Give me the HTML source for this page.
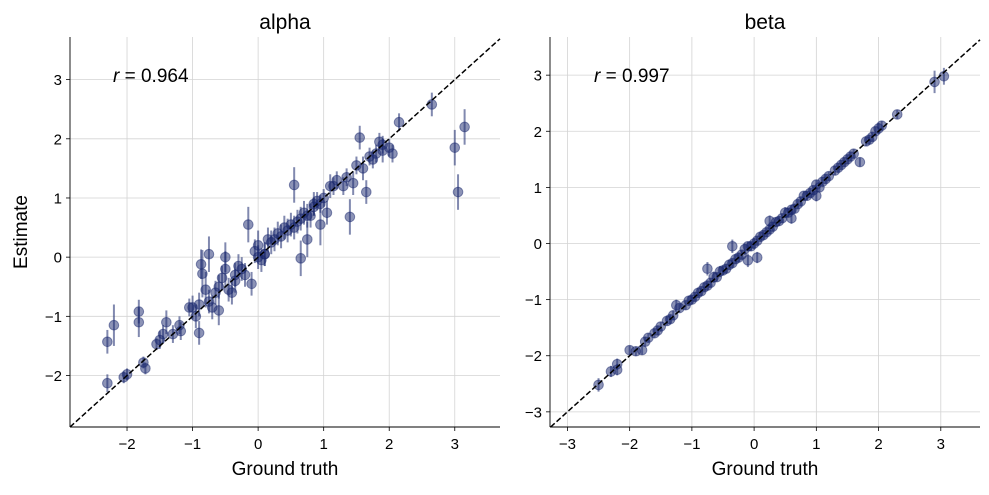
<!DOCTYPE html>
<html><head><meta charset="utf-8">
<style>
body{margin:0;background:#fff;}
svg text{font-family:"Liberation Sans","DejaVu Sans",sans-serif;fill:#000;}
</style></head>
<body>
<svg id="chart" width="989" height="490" viewBox="0 0 989 490" xmlns="http://www.w3.org/2000/svg"></svg>
<script>
const alphaTrue=[-2.3,-2.2,-2.3,-2.05,-2.0,-1.82,-1.82,-1.75,-1.72,-1.55,-1.5,-1.45,-1.4,-1.2,-1.18,-1.05,-1.0,-0.95,-0.9,-0.87,-0.85,-0.8,-0.75,-0.75,-0.7,-0.65,-0.6,-0.55,-0.5,-0.5,-0.45,-0.4,-0.35,-0.3,-0.2,-0.15,-0.1,-0.05,0.0,0.0,0.05,0.1,0.15,0.2,0.3,0.35,0.4,0.45,0.5,0.55,0.6,0.65,0.7,0.75,0.8,0.85,0.9,0.95,1.0,1.05,1.1,1.2,1.3,1.4,1.45,1.5,1.55,1.6,1.65,1.7,1.8,1.85,1.9,2.0,2.05,2.15,2.65,3.0,3.05,3.15,-1.3,-0.9,-0.6,-0.25,0.25,0.55,0.75,0.85,0.95,1.15,1.35,1.75,1.9,-0.35,0.1,0.65];
const alphaEst=[-1.43,-1.15,-2.13,-2.03,-1.98,-0.92,-1.1,-1.78,-1.88,-1.47,-1.4,-1.3,-1.1,-1.15,-1.25,-0.85,-0.85,-1.0,-1.28,-0.12,-0.28,-0.55,0.05,-0.75,-0.85,-0.6,-0.9,-0.35,-0.2,0.0,-0.55,-0.6,-0.3,-0.15,-0.3,0.55,-0.45,0.1,0.2,0.0,-0.05,0.05,0.3,0.25,0.4,0.35,0.5,0.45,0.55,1.22,0.6,-0.02,0.75,0.3,0.7,0.9,0.95,0.55,1.0,0.75,1.2,1.3,1.2,0.68,1.25,1.55,2.02,1.5,1.1,1.7,1.75,1.95,1.8,1.85,1.75,2.28,2.58,1.85,1.1,2.2,-1.3,-0.8,-0.5,-0.2,0.3,0.5,0.7,0.85,0.9,1.2,1.35,1.65,1.9,-0.4,0.05,0.65];
const alphaErr=[0.2,0.35,0.15,0.1,0.1,0.2,0.25,0.1,0.1,0.1,0.15,0.15,0.2,0.15,0.15,0.15,0.2,0.2,0.2,0.25,0.4,0.3,0.3,0.2,0.2,0.2,0.25,0.2,0.3,0.25,0.2,0.2,0.2,0.2,0.2,0.3,0.2,0.2,0.25,0.2,0.2,0.2,0.2,0.2,0.2,0.2,0.2,0.2,0.2,0.3,0.2,0.3,0.2,0.3,0.2,0.2,0.15,0.35,0.15,0.2,0.2,0.15,0.15,0.3,0.2,0.15,0.2,0.2,0.2,0.15,0.15,0.15,0.2,0.15,0.15,0.15,0.2,0.3,0.3,0.3,0.15,0.2,0.2,0.2,0.2,0.2,0.2,0.15,0.15,0.15,0.15,0.15,0.15,0.2,0.2,0.2];
const betaTrue=[-2.5,-2.3,-2.2,-2.2,-2.0,-1.9,-1.8,-1.75,-1.7,-1.6,-1.55,-1.5,-1.4,-1.35,-1.3,-1.2,-1.1,-1.05,-1.0,-0.95,-0.9,-0.85,-0.8,-0.75,-0.7,-0.65,-0.6,-0.55,-0.5,-0.45,-0.4,-0.35,-0.3,-0.25,-0.2,-0.15,-0.1,-0.05,0.0,0.05,0.1,0.15,0.2,0.25,0.3,0.35,0.4,0.45,0.5,0.55,0.6,0.65,0.7,0.75,0.8,0.85,0.9,0.95,1.0,1.05,1.1,1.15,1.2,1.3,1.35,1.4,1.45,1.5,1.55,1.6,1.7,1.8,1.85,1.9,1.95,2.0,2.05,2.3,2.9,3.05,-0.75,-0.35,0.05,0.25,0.6,1.0,-1.25,-0.1];
const betaEst=[-2.52,-2.28,-2.15,-2.25,-1.9,-1.92,-1.9,-1.75,-1.68,-1.6,-1.55,-1.48,-1.38,-1.35,-1.28,-1.15,-1.1,-1.02,-1.0,-0.95,-0.88,-0.85,-0.78,-0.75,-0.7,-0.6,-0.6,-0.5,-0.48,-0.45,-0.38,-0.35,-0.28,-0.25,-0.2,-0.1,-0.05,-0.05,0.0,0.05,0.12,0.15,0.2,0.25,0.3,0.38,0.4,0.45,0.55,0.55,0.6,0.62,0.7,0.75,0.85,0.85,0.9,0.95,1.05,1.0,1.1,1.15,1.2,1.3,1.35,1.4,1.45,1.5,1.55,1.6,1.45,1.82,1.85,1.9,2.0,2.05,2.1,2.3,2.88,2.98,-0.45,-0.05,-0.25,0.4,0.45,0.85,-1.1,-0.3];
const betaErr=[0.12,0.1,0.1,0.1,0.08,0.08,0.08,0.08,0.08,0.08,0.08,0.08,0.08,0.08,0.08,0.08,0.08,0.08,0.08,0.08,0.08,0.08,0.08,0.08,0.08,0.1,0.08,0.1,0.08,0.08,0.08,0.08,0.08,0.08,0.08,0.1,0.08,0.08,0.1,0.08,0.08,0.08,0.08,0.08,0.08,0.08,0.08,0.08,0.1,0.08,0.08,0.08,0.08,0.08,0.08,0.08,0.08,0.08,0.08,0.08,0.08,0.08,0.08,0.08,0.08,0.08,0.08,0.08,0.08,0.08,0.08,0.08,0.08,0.08,0.08,0.1,0.08,0.08,0.2,0.15,0.12,0.12,0.1,0.1,0.1,0.1,0.1,0.12];
const alphaTicks=[-2,-1,0,1,2,3];
const betaTicks=[-3,-2,-1,0,1,2,3];

const NS="http://www.w3.org/2000/svg";
const svg=document.getElementById('chart');
function mk(tag,attrs,parent){const e=document.createElementNS(NS,tag);for(const k in attrs)e.setAttribute(k,attrs[k]);(parent||svg).appendChild(e);return e;}

function panel(cfg){
  const g=mk('g',{});
  
  
  const sx=v=>cfg.x0+(v-cfg.xmin)/(cfg.xmax-cfg.xmin)*(cfg.x1-cfg.x0);
  const sy=v=>cfg.y1-(v-cfg.ymin)/(cfg.ymax-cfg.ymin)*(cfg.y1-cfg.y0);
  cfg.xt.forEach(t=>{
    const l=mk('line',{x1:sx(t),x2:sx(t),y1:cfg.y0,y2:cfg.y1,stroke:'#d3d3d3','stroke-width':0.8},g);
    
    
    mk('line',{x1:sx(t),x2:sx(t),y1:cfg.y1,y2:cfg.y1+4,stroke:'#000','stroke-width':0.8},g);
    const tx=mk('text',{x:sx(t),y:cfg.y1+22,'text-anchor':'middle','font-size':15},g);
    tx.textContent=(t<0?'\u2212'+(-t):t);
    
    
  });
  cfg.yt.forEach(t=>{
    const l=mk('line',{x1:cfg.x0,x2:cfg.x1,y1:sy(t),y2:sy(t),stroke:'#d3d3d3','stroke-width':0.8},g);
    
    
    mk('line',{x1:cfg.x0-4,x2:cfg.x0,y1:sy(t),y2:sy(t),stroke:'#000','stroke-width':0.8},g);
    const tx=mk('text',{x:cfg.x0-8,y:sy(t)+5.5,'text-anchor':'end','font-size':15},g);
    tx.textContent=(t<0?'\u2212'+(-t):t);
    
    
  });
  for(let i=0;i<cfg.tr.length;i++){
    const x=sx(cfg.tr[i]),y=sy(cfg.es[i]);
    const eb=mk('line',{x1:x,x2:x,y1:sy(cfg.es[i]+cfg.er[i]),y2:sy(cfg.es[i]-cfg.er[i]),stroke:'#19286e','stroke-opacity':0.55,'stroke-width':2},g);
    
    
    const c=mk('circle',{cx:x,cy:y,r:4.8,fill:'#19286e','fill-opacity':0.5,stroke:'#19286e','stroke-opacity':0.5,'stroke-width':1},g);
    
    
  }
  const lo=Math.max(cfg.xmin,cfg.ymin),hi=Math.min(cfg.xmax,cfg.ymax);
  const d=mk('line',{x1:sx(lo),y1:sy(lo),x2:sx(hi),y2:sy(hi),stroke:'#000','stroke-width':1.5,'stroke-dasharray':'5.5,2.5'},g);
  
  
  mk('line',{x1:cfg.x0,x2:cfg.x0,y1:cfg.y0,y2:cfg.y1,stroke:'#000','stroke-width':0.9},g);
  mk('line',{x1:cfg.x0,x2:cfg.x1,y1:cfg.y1,y2:cfg.y1,stroke:'#000','stroke-width':0.9},g);
  const tl=mk('text',{x:(cfg.x0+cfg.x1)/2,y:29,'text-anchor':'middle','font-size':21},g);
  tl.textContent=cfg.name;
  
  
  const xl=mk('text',{x:(cfg.x0+cfg.x1)/2,y:475,'text-anchor':'middle','font-size':19},g);
  xl.textContent='Ground truth';
  
  
  const rt=mk('text',{x:cfg.rx,y:82,'font-size':19},g);
  rt.innerHTML='<tspan font-style="italic">r</tspan> = '+cfg.r;
  
  
}
panel({name:'alpha',x0:70,x1:500,y0:37,y1:427,xmin:-2.87,xmax:3.69,ymin:-2.87,ymax:3.72,xt:alphaTicks,yt:[-2,-1,0,1,2,3],tr:alphaTrue,es:alphaEst,er:alphaErr,r:'0.964',rx:113});
panel({name:'beta',x0:550,x1:980,y0:37,y1:427,xmin:-3.28,xmax:3.63,ymin:-3.27,ymax:3.68,xt:betaTicks,yt:betaTicks,tr:betaTrue,es:betaEst,er:betaErr,r:'0.997',rx:594});
const yl=mk('text',{x:27,y:232,'text-anchor':'middle','font-size':19,transform:'rotate(-90 27 232)'});
yl.textContent='Estimate';


</script>
</body></html>
